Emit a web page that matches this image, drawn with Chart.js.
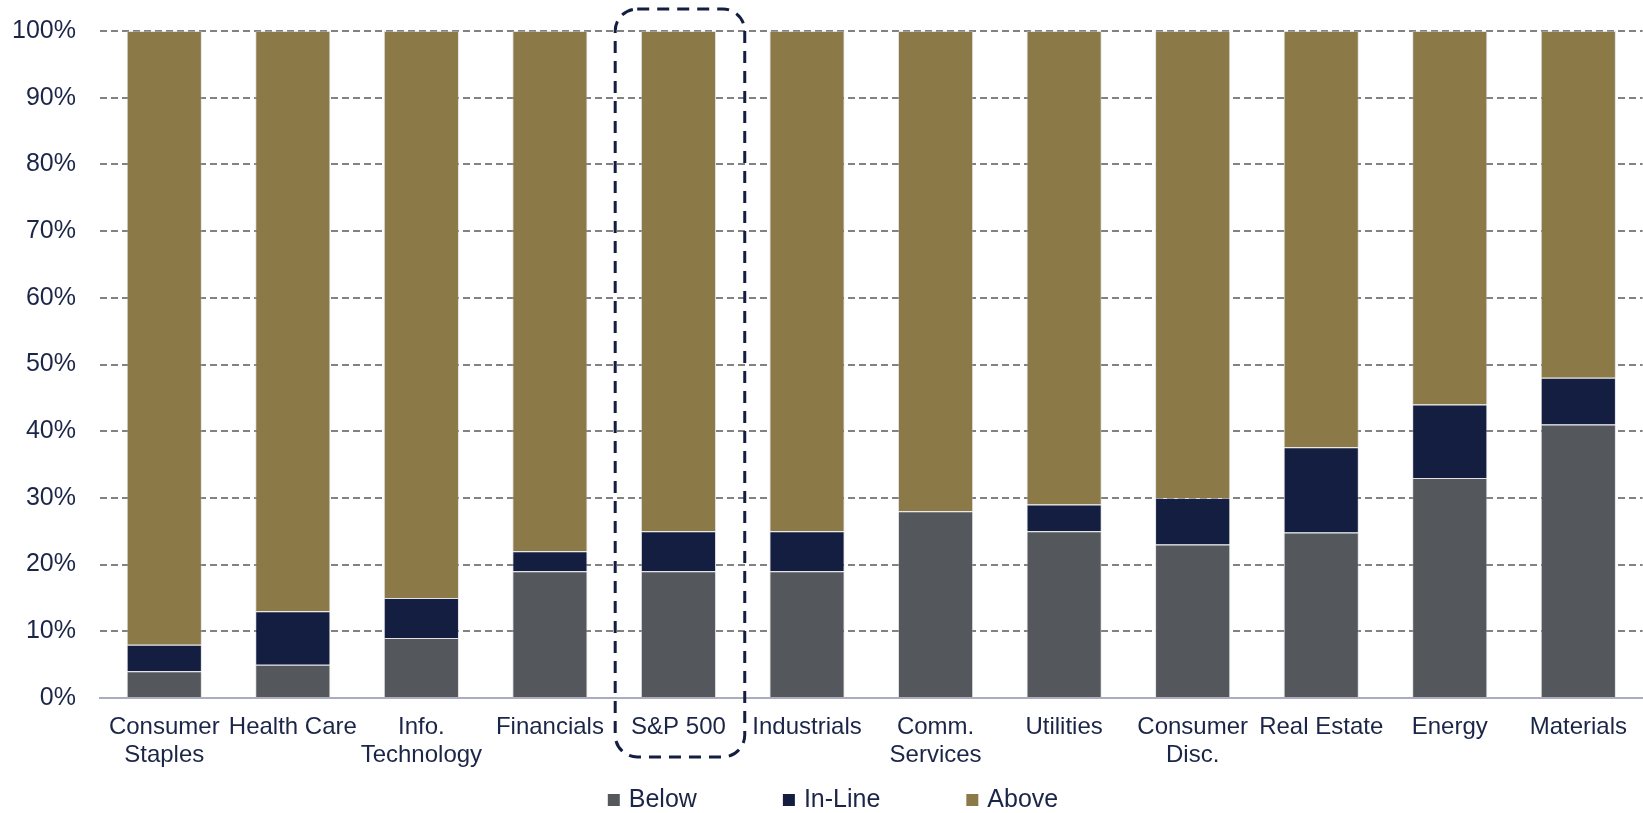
<!DOCTYPE html>
<html>
<head>
<meta charset="utf-8">
<script src="https://cdn.jsdelivr.net/npm/chart.js@4/dist/chart.umd.min.js"></script>
<style>
  html, body { margin: 0; padding: 0; background: #ffffff; }
  #wrap { width: 1643px; height: 813px; position: relative; }
</style>
</head>
<body>
<div id="wrap"><canvas id="c"></canvas></div>
<script>
const categories = [
  ["Consumer", "Staples"], "Health Care", ["Info.", "Technology"], "Financials", "S&P 500",
  "Industrials", ["Comm.", "Services"], "Utilities", ["Consumer", "Disc."], "Real Estate",
  "Energy", "Materials"
];
const below  = [4, 5, 9, 19, 19, 19, 28, 25, 23, 24.8, 33, 41];
const inLine = [4, 8, 6, 3, 6, 6, 0, 4, 7, 12.8, 11, 7];
const above  = [92, 87, 85, 78, 75, 75, 72, 71, 70, 62.4, 56, 52];
const seriesNames = ["Below", "In-Line", "Above"];
const yTicks = [0, 10, 20, 30, 40, 50, 60, 70, 80, 90, 100];
const highlightIndex = 4;

const colors = ["#54575c", "#131e41", "#8b7948"];
const textColor = "#1b2547";
const FONT = "Arial, 'Liberation Sans', sans-serif";

const highlightPlugin = {
  id: "highlight",
  afterDraw(chart) {
    const x = chart.scales.x, y = chart.scales.y;
    const cx = x.getPixelForValue(highlightIndex);
    const half = (x.getPixelForValue(1) - x.getPixelForValue(0)) / 2;
    const left = cx - half + 1, right = cx + half + 2;
    const top = y.getPixelForValue(100) - 22;
    const bottom = chart.height - 56;
    const r = 22;
    const ctx = chart.ctx;
    ctx.save();
    ctx.strokeStyle = "#131e41";
    ctx.lineWidth = 3;
    ctx.setLineDash([12, 8]);
    ctx.beginPath();
    ctx.moveTo(left + r, top);
    ctx.lineTo(right - r, top);
    ctx.arcTo(right, top, right, top + r, r);
    ctx.lineTo(right, bottom - r);
    ctx.arcTo(right, bottom, right - r, bottom, r);
    ctx.lineTo(left + r, bottom);
    ctx.arcTo(left, bottom, left, bottom - r, r);
    ctx.lineTo(left, top + r);
    ctx.arcTo(left, top, left + r, top, r);
    ctx.closePath();
    ctx.stroke();
    ctx.restore();
  }
};

const legendPlugin = {
  id: "customLegend",
  afterDraw(chart) {
    const ctx = chart.ctx;
    ctx.save();
    ctx.font = "25px " + FONT;
    const box = 12, gap = 9, itemGap = 86;
    const ds = chart.data.datasets;
    const widths = ds.map(d => box + gap + ctx.measureText(d.label).width);
    const total = widths.reduce((a, b) => a + b, 0) + itemGap * (ds.length - 1);
    let x = 833 - total / 2;
    const yMid = 799;
    ds.forEach((d, i) => {
      ctx.fillStyle = d.backgroundColor;
      ctx.fillRect(x, yMid - 5, box, box);
      ctx.fillStyle = textColor;
      ctx.textBaseline = "middle";
      ctx.textAlign = "left";
      ctx.fillText(d.label, x + box + gap, yMid + 1);
      x += widths[i] + itemGap;
    });
    ctx.restore();
  }
};

const seriesData = [below, inLine, above];
new Chart(document.getElementById("c"), {
  type: "bar",
  data: {
    labels: categories,
    datasets: seriesNames.map((name, i) => ({
      label: name,
      data: seriesData[i],
      backgroundColor: colors[i],
      borderColor: "rgba(190,190,200,0.45)",
      borderWidth: 1,
      categoryPercentage: 1,
      barPercentage: 0.585
    }))
  },
  options: {
    responsive: true,
    maintainAspectRatio: false,
    animation: false,
    layout: { padding: { top: 31, right: 0, left: 0, bottom: 0 } },
    plugins: {
      legend: { display: false },
      tooltip: { enabled: false }
    },
    scales: {
      x: {
        stacked: true,
        grid: { display: false, drawTicks: false },
        border: { display: true, color: "#a9adbd", width: 2 },
        ticks: {
          color: textColor,
          font: { family: FONT, size: 24, lineHeight: 1.15 },
          padding: 16,
          maxRotation: 0,
          autoSkip: false
        },
        afterFit(scale) { scale.height = 115; }
      },
      y: {
        stacked: true,
        min: 0,
        max: 100,
        afterBuildTicks(scale) { scale.ticks = yTicks.map(v => ({ value: v })); },
        grid: {
          color: "#828282",
          lineWidth: 2,
          drawTicks: true,
          tickLength: 24,
          tickColor: "rgba(0,0,0,0)"
        },
        border: { display: false, dash: [7, 4] },
        ticks: {
          color: textColor,
          font: { family: FONT, size: 25 },
          padding: 0,
          callback: v => v + "%"
        },
        afterFit(scale) { scale.width = 100; }
      }
    }
  },
  plugins: [highlightPlugin, legendPlugin]
});
</script>
</body>
</html>
